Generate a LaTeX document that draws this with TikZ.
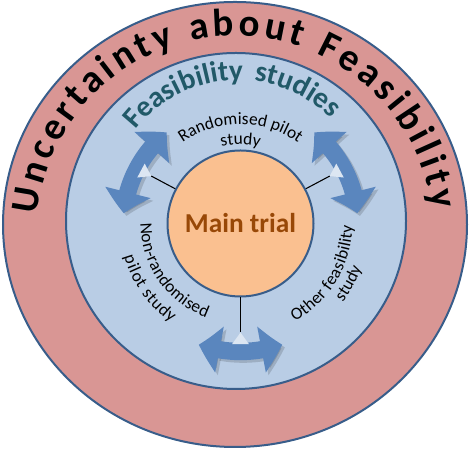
\documentclass[tikz,border=0pt]{standalone}
\usepackage{fontspec}
\setmainfont{Carlito}
\usetikzlibrary{decorations.text,arrows.meta,bending}
\definecolor{ringred}{HTML}{D99694}
\definecolor{ringblue}{HTML}{B9CDE5}
\definecolor{trialorange}{HTML}{FAC090}
\definecolor{edgeblue}{HTML}{385D8A}
\definecolor{arrowblue}{HTML}{5A86BE}
\definecolor{studyteal}{HTML}{215968}
\definecolor{trialbrown}{HTML}{984807}
\begin{document}
\begin{tikzpicture}[x=0.75pt,y=0.75pt,
  ring/.style={draw=edgeblue,line width=1.5pt},
  arctext/.style={decorate,decoration={text along path,text align=center,text={#1}}},
  fittext/.style={decorate,decoration={text along path,text align=fit to path,text={#1}}},
  turnarrow/.style={draw=arrowblue,line width=13pt,
    arrows={Triangle[width=34pt,length=16pt,bend]-Triangle[width=34pt,length=16pt,bend]}}]
\useasboundingbox (0,0) rectangle (474,459);

\draw[ring,fill=ringred] (235,234.5) ellipse [x radius=232,y radius=222.5];
\draw[ring,fill=ringblue] (236,238) ellipse [x radius=170,y radius=168];
\node[circle,ring,fill=trialorange,minimum size=109.5pt,inner sep=0pt,
  font=\bfseries\fontsize{20.5}{20.5}\selectfont,text=trialbrown] (main) at (240.5,235.5) {Main trial};

\coordinate (uc) at (235,224);
\coordinate (fc) at (238,249);

\path[fittext={|\color{black!40}\bfseries\fontsize{29}{29}\selectfont|Uncertainty about Feasibility},
  transform canvas={shift={(1.2pt,-1.5pt)}}]
  ([shift={(174:199)}]uc) arc[start angle=174,end angle=7.5,radius=199];
\path[fittext={|\bfseries\fontsize{29}{29}\selectfont|Uncertainty about Feasibility}]
  ([shift={(174:199)}]uc) arc[start angle=174,end angle=7.5,radius=199];
\path[decorate,decoration={text along path,text align=fit to path stretching spaces,
  text={|\color{studyteal}\bfseries\fontsize{22}{22}\selectfont|Feasibility studies}}]
  ([shift={(142:130)}]fc) arc[start angle=142,end angle=44.5,radius=130];

\path[arctext={|\fontsize{13}{13}\selectfont|Randomised pilot}]
  ([shift={(150:99)}]main.center) arc[start angle=150,end angle=30,radius=99];
\path[arctext={|\fontsize{13}{13}\selectfont|study}]
  ([shift={(130:79)}]main.center) arc[start angle=130,end angle=50,radius=79];
\path[fittext={|\fontsize{13}{13}\selectfont|Non-randomised}]
  ([shift={(180:100)}]main.center) arc[start angle=180,end angle=250,radius=100];
\path[fittext={|\fontsize{13}{13}\selectfont|pilot study}]
  ([shift={(196:121)}]main.center) arc[start angle=196,end angle=235,radius=121];
\path[fittext={|\fontsize{13}{13}\selectfont|Other feasibility}]
  ([shift={(299:112)}]main.center) arc[start angle=299,end angle=359,radius=112];
\path[arctext={|\fontsize{13}{13}\selectfont|study}]
  ([shift={(286:129)}]main.center) arc[start angle=286,end angle=376,radius=129];

\foreach \a/\r/\s/\h in {152/101/117/23,28/101/117/23,270/109/128/19}
	{\coordinate (tip\a) at ([shift={(\a:\r)}]main.center);
	\draw[turnarrow,draw=black,opacity=0.15,transform canvas={shift={(2pt,-2pt)}}]
	  ([shift={(\a+\h:\s)}]main.center) arc[start angle=\a+\h,end angle=\a-\h,radius=\s];
	\draw[turnarrow] ([shift={(\a+\h:\s)}]main.center) arc[start angle=\a+\h,end angle=\a-\h,radius=\s];
	\fill[ringblue!50!white] (tip\a) -- ([shift={(\a+4:\r+12)}]main.center) -- ([shift={(\a-4:\r+12)}]main.center) -- cycle;
	\draw[line width=0.8pt] (main.\a) -- (tip\a);}

\end{tikzpicture}
\end{document}
